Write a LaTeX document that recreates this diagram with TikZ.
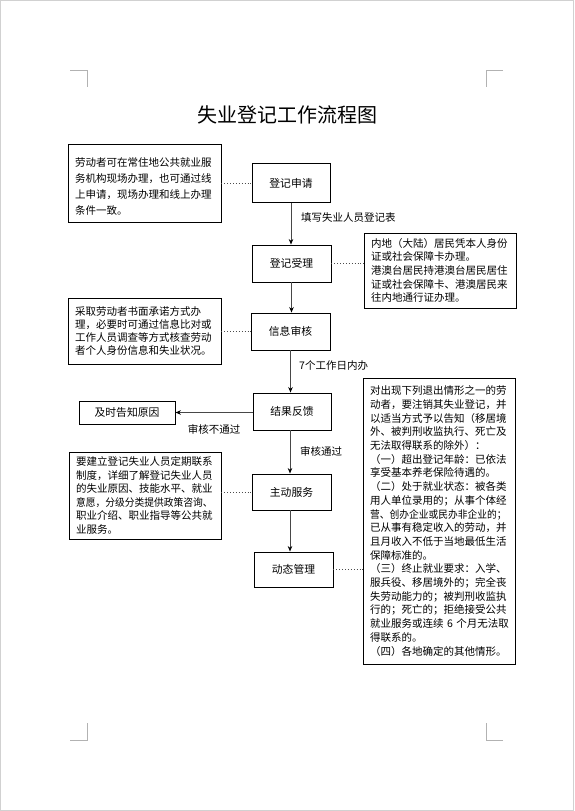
\documentclass[tikz,border=0pt]{standalone}
\usepackage{fontspec}
\setmainfont{Noto Sans CJK SC}
\usetikzlibrary{arrows.meta}
\tikzset{
  stepbox/.style={draw=black, line width=0.9pt, inner sep=0pt, align=center,
    minimum width=78pt, minimum height=37pt, font=\fontsize{10.8}{12}\selectfont},
  note/.style={draw=black, line width=0.9pt, inner xsep=7pt, inner ysep=0pt,
    text width=138pt, align=left},
  flow/.style={draw=black!72, line width=1pt, -{Stealth[length=5.5pt,width=4.5pt,black]}},
  dots/.style={draw=black!70, line width=0.9pt, dotted},
  lbl/.style={font=\fontsize{10.5}{12}\selectfont, inner sep=0pt},
  cropmark/.style={draw=black!30, line width=0.8pt},
}
\newcommand\sq[1]{\scalebox{0.93}[1]{#1}}
\begin{document}
\begin{tikzpicture}[x=1pt,y=-1pt]
\useasboundingbox (0,0) rectangle (574,811);
\draw[draw=black!18, line width=1.2pt] (0.6,0.6) rectangle (573.4,810.2);
% crop marks
\coordinate (c1) at (87,70); \coordinate (c2) at (486,70);
\coordinate (c3) at (87,740); \coordinate (c4) at (486,740);
\draw[cropmark] ([xshift=-17pt]c1) -- (c1) -- ([yshift=-17pt]c1);
\draw[cropmark] ([xshift=17pt]c2) -- (c2) -- ([yshift=-17pt]c2);
\draw[cropmark] ([xshift=-17pt]c3) -- (c3) -- ([yshift=17pt]c3);
\draw[cropmark] ([xshift=17pt]c4) -- (c4) -- ([yshift=17pt]c4);

\node[font=\fontsize{20}{24}\selectfont, inner sep=0pt] (title) at (287,115) {失业登记工作流程图};

% main flow
\node[stepbox, minimum height=39pt] (sq) at (291,183) {登记申请};
\node[stepbox, minimum width=79pt] (sl) at (291.5,263.5) {登记受理};
\node[stepbox, minimum width=79pt] (xs) at (290.5,331.5) {信息审核};
\node[stepbox] (jg) at (292,411.5) {结果反馈};
\node[stepbox, minimum width=79pt, minimum height=36pt] (zd) at (291.5,492) {主动服务};
\node[stepbox, minimum width=79pt, minimum height=35pt] (dt) at (293.5,569.5) {动态管理};
\node[stepbox, minimum width=96pt, minimum height=23pt] (yy) at (127,412.5) {及时告知原因};

% side notes
\node[note, minimum height=78pt, text width=139pt, font=\fontsize{10.5}{16}\selectfont] (L1) at (144.5,183)
{\rule{0pt}{16pt}劳动者可在常住地公共就业服\\务机构现场办理，也可通过线\\上申请，现场办理和线上办理\\条件一致。};
\node[note, minimum height=75pt, font=\fontsize{10.5}{13.7}\selectfont] (R2) at (440,270.5)
{内地（大陆）居民凭本人身份\\证或社会保障卡办理。\\港澳台居民持港澳台居民居住\\证或社会保障卡、港澳居民来\\往内地通行证办理。};
\node[note, minimum height=66pt, text width=139pt, font=\fontsize{10.5}{13}\selectfont] (L3) at (144.5,331)
{采取劳动者书面承诺方式办\\理，必要时可通过信息比对或\\工作人员调查等方式核查劳动\\者个人身份信息和失业状况。};
\node[note, minimum height=87pt, font=\fontsize{10.5}{13.5}\selectfont] (L7) at (145,495.5)
{要建立登记失业人员定期联系\\制度，详细了解登记失业人员\\的失业原因、技能水平、就业\\\sq{意愿，分级分类提供政策咨询、}\\职业介绍、职业指导等公共就\\业服务。};
\node[note, minimum height=286pt, font=\fontsize{10.5}{13.7}\selectfont] (R8) at (439,521)
{对出现下列退出情形之一的劳\\动者，要注销其失业登记，并\\以适当方式予以告知（移居境\\外、被判刑收监执行、死亡及\\无法取得联系的除外）：\\（一）超出登记年龄：已依法\\享受基本养老保险待遇的。\\（二）处于就业状态：被各类\\用人单位录用的；从事个体经\\\sq{营、创办企业或民办非企业的；}\\已从事有稳定收入的劳动，并\\且月收入不低于当地最低生活\\保障标准的。\\（三）终止就业要求：入学、\\服兵役、移居境外的；完全丧\\失劳动能力的；被判刑收监执\\行的；死亡的；拒绝接受公共\\\mbox{就业服务或连续 6 个月无法取}\\得联系的。\\（四）各地确定的其他情形。};

% arrows
\draw[flow] (sq.south) -- (sq.south |- sl.north);
\draw[flow] (sl.south) -- (sl.south |- xs.north);
\draw[flow] (xs.south) -- (xs.south |- jg.north);
\draw[flow] ([xshift=-2pt]jg.south) -- ([xshift=-2pt]jg.south |- zd.north);
\draw[flow] ([xshift=-1.5pt]zd.south) -- ([xshift=-1.5pt]zd.south |- dt.north);
\draw[flow] (jg.west |- yy.east) -- (yy.east);

% dotted links
\draw[dots] (L1.east) -- (L1.east -| sq.west);
\draw[dots] (sl.east) -- (sl.east -| R2.west);
\draw[dots] (L3.east) -- (L3.east -| xs.west);
\draw[dots] (L7.east |- zd.west) -- (zd.west);
\draw[dots] (dt.east) -- (dt.east -| R8.west);

% labels
\node[lbl, anchor=west] (t1) at (301,218) {填写失业人员登记表};
\node[lbl, anchor=west] (t2) at (299,366) {7个工作日内办};
\node[lbl] (t3) at (214,429) {审核不通过};
\node[lbl, anchor=west] (t4) at (300,451) {审核通过};
\end{tikzpicture}
\end{document}
